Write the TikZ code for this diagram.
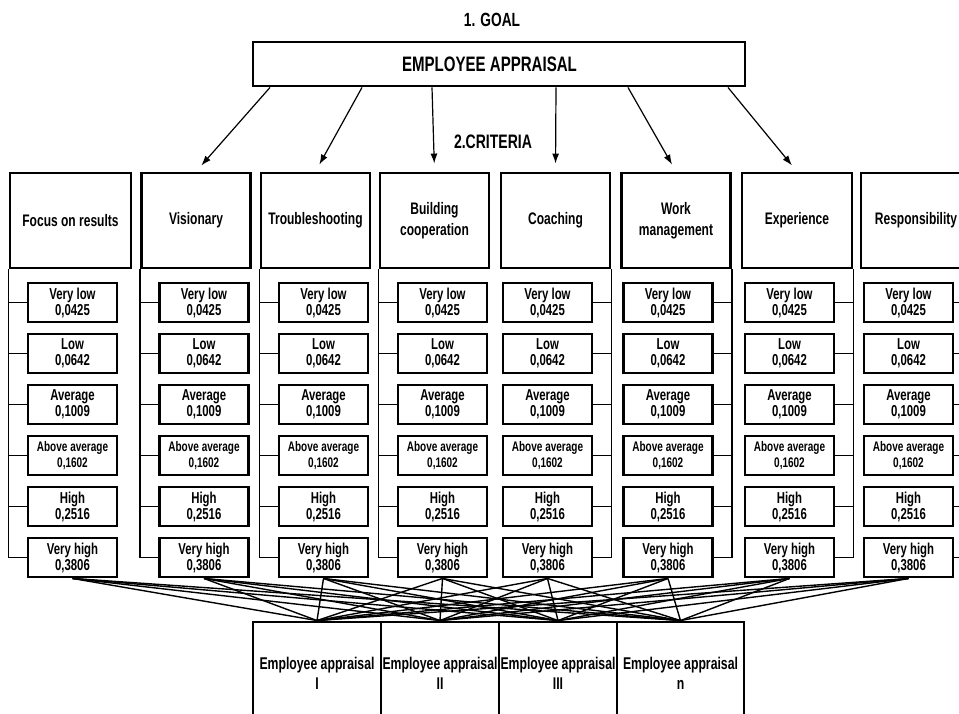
\documentclass[tikz,border=0pt]{standalone}
\usepackage{fontspec}
\setmainfont{Liberation Sans}[FakeStretch=0.72]
\usetikzlibrary{arrows.meta}

\begin{document}
\begin{tikzpicture}[x=1pt,y=-1pt,>={Latex[length=10pt,width=7pt]},
    critbox/.style={draw,line width=2.9pt,fill=white,minimum height=95pt,align=center,inner sep=0pt,
      font=\bfseries\fontsize{16.7}{20.5}\selectfont},
    valbox/.style={draw,line width=2.9pt,fill=white,minimum width=89pt,minimum height=39pt,align=center,inner sep=0pt},
    empbox/.style={draw,line width=2.9pt,fill=white,minimum height=102pt,align=center,inner sep=0pt,
      font=\bfseries\fontsize{17}{20}\selectfont},
    arm/.style={line width=1.2pt},
    tie/.style={line width=1.4pt}]
    \clip (0,0) rectangle (959,713);

    \node[font=\bfseries\fontsize{19.1}{20}\selectfont] (lvl1) at (492,20) {1. GOAL};
    \node[font=\bfseries\fontsize{19.5}{20}\selectfont] (lvl2) at (493,142) {2.CRITERIA};
    \node[critbox, minimum width=492pt, minimum height=44pt, font=\bfseries\fontsize{20.9}{22}\selectfont]
      (goal) at (499,64) {EMPLOYEE APPRAISAL\hspace*{19pt}};

    % criteria
    \foreach \x/\w/\name [count=\i] in {70.5/121/Focus on results, 196/109/Visionary, 315.5/109/Troubleshooting,
        434.5/109/{Building\\cooperation}, 555.5/109/Coaching, 676/109/{Work\\management},
        797/110/Experience, 916/110/Responsibility}
      \node[critbox, minimum width=\w pt] (c\i) at (\x,220.5) {\name};

    \foreach \x/\i in {270/2, 362/3, 432/4, 556/5, 628/6, 728/7}
      \draw[->, line width=1.2pt, shorten >=8pt] (\x,0 |- goal.south) -- (c\i.north);

    % grades
    \foreach \x/\s [count=\i] in {72.5/west, 204/west, 323.5/west, 442.5/west,
        547.5/east, 668/east, 789.5/east, 908.5/east} {
      \foreach \t/\p/\f [count=\k] in {Very low/0{,}0425/15.8, Low/0{,}0642/15.8, Average/0{,}1009/15.8,
          Above average/0{,}1602/13.9, High/0{,}2516/15.8, Very high/0{,}3806/15.8} {
        \node[valbox, font=\bfseries\fontsize{\f}{16}\selectfont] (v\i-\k) at (\x,251.5+51*\k) {\t\\\p};
        \draw[arm] (c\i.south \s |- v\i-\k.\s) -- (v\i-\k.\s);
      }
      \draw[arm] (c\i.south \s) -- (c\i.south \s |- v\i-6.\s);
    }

    % alternatives
    \foreach \x/\w/\rn [count=\j] in {317/128/I, 440/118/II, 558/118/III, 680.5/127/n}
      \node[empbox, minimum width=\w pt] (e\j) at (\x,673) {Employee appraisal\\\rn};

    \foreach \i in {1,...,8}
      \foreach \j in {1,...,4}
        \draw[tie] (v\i-6.south) -- (e\j.north);
\end{tikzpicture}
\end{document}
